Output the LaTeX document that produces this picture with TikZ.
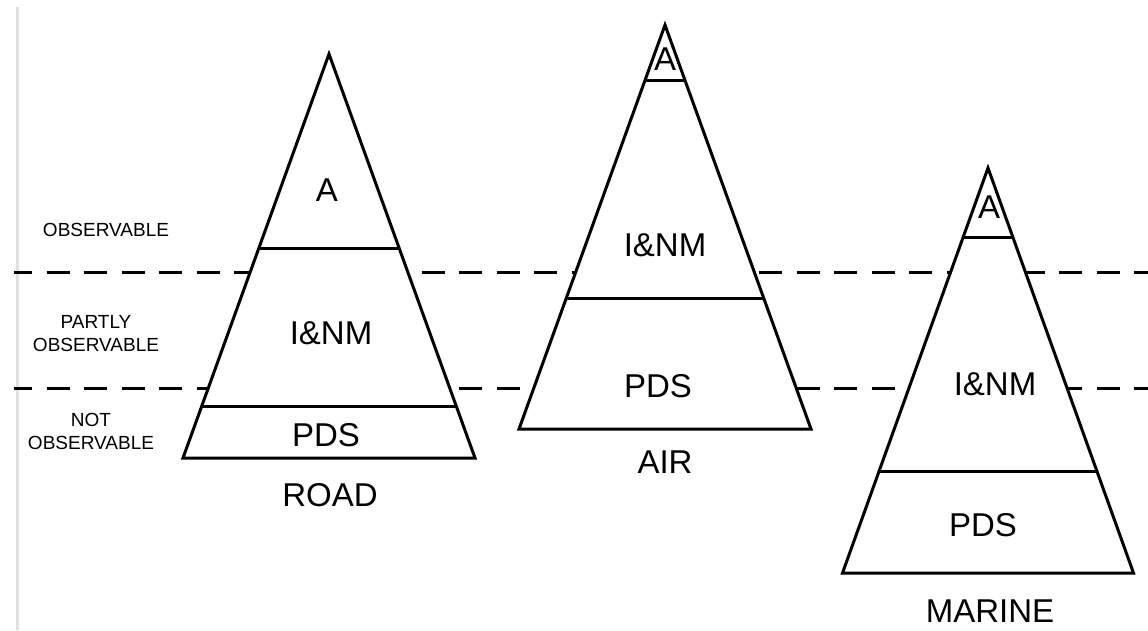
\documentclass[tikz,border=0pt]{standalone}
\usepackage{fontspec}
\setmainfont{Liberation Sans}
\begin{document}
\begin{tikzpicture}[x=1pt,y=-1pt,
  edge/.style={line width=3pt, line join=miter},
  level/.style={line width=3pt, dash pattern=on 23pt off 14.5pt, dash phase=5pt},
  big/.style={font=\fontsize{33}{36}\selectfont, inner sep=0pt},
  small/.style={font=\fontsize{19}{23}\selectfont, inner sep=0pt, align=center}]
\useasboundingbox[fill=white] (0,0) rectangle (1148,630);

% margin rule
\draw[line width=3pt, black!12] (17,7) -- (17,630);

% observability boundaries
\coordinate (u0) at (14,272);   \coordinate (u1) at (1148,272);
\coordinate (l0) at (14,388);   \coordinate (l1) at (1148,388);
\draw[level] (u0) -- (u1);
\draw[level] (l0) -- (l1);

% ROAD pyramid
\filldraw[edge, fill=white] (329,54) -- (475,458) -- (183,458) -- cycle;
\draw[edge] (258.9,248) -- (399.1,248);
\draw[edge] (201.8,406) -- (456.2,406);

% AIR pyramid
\filldraw[edge, fill=white] (665,25) -- (811,429) -- (519,429) -- cycle;
\draw[edge] (645.1,80) -- (684.9,80);
\draw[edge] (566.3,298) -- (763.7,298);

% MARINE pyramid
\filldraw[edge, fill=white] (988,168) -- (1133.5,573) -- (842.5,573) -- cycle;
\draw[edge] (963.2,237) -- (1012.8,237);
\draw[edge] (879.2,471) -- (1096.8,471);

% level captions
\node[small] (obs)  at (106,230)   {OBSERVABLE};
\node[small] (part) at (96,333.5)  {PARTLY\\OBSERVABLE};
\node[small] (nobs) at (91,431.5)  {NOT\\OBSERVABLE};

% ROAD labels
\node[big] (rA)   at (327,190) {A};
\node[big] (rINM) at (331,333) {I\&NM};
\node[big] (rPDS) at (326,435) {PDS};
\node[big] (road) at (330,495) {ROAD};

% AIR labels
\node[big] (aA)   at (665,59)  {A};
\node[big] (aINM) at (665,245) {I\&NM};
\node[big] (aPDS) at (658,386) {PDS};
\node[big] (air)  at (665,462) {AIR};

% MARINE labels
\node[big] (mA)   at (989,207) {A};
\node[big] (mINM) at (995,384) {I\&NM};
\node[big] (mPDS) at (983,525) {PDS};
\node[big] (mar)  at (990,611) {MARINE};
\end{tikzpicture}
\end{document}
